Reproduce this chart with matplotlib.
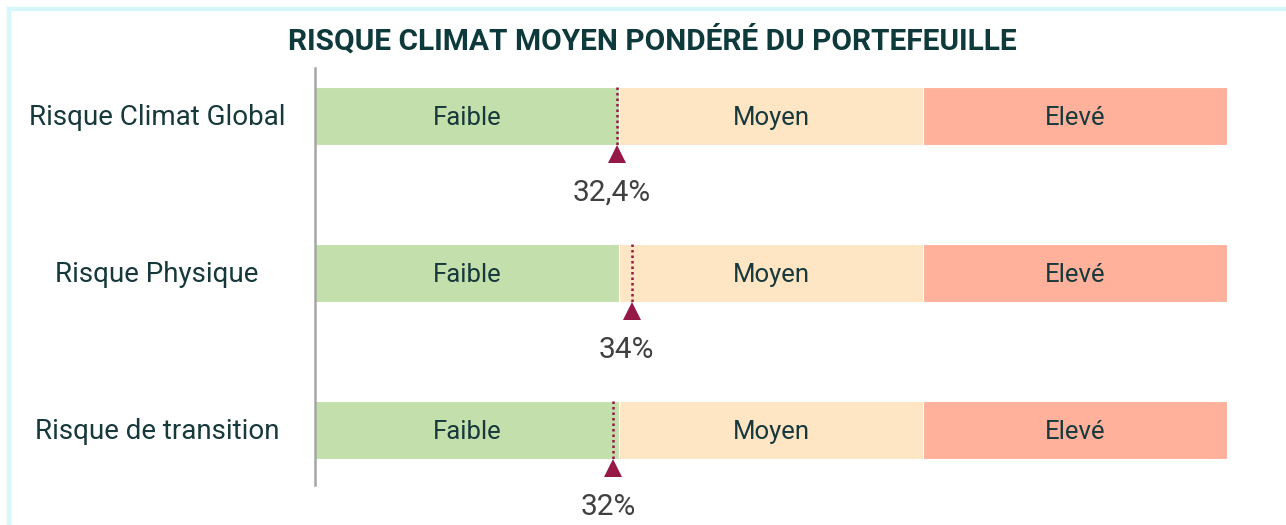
import matplotlib.pyplot as plt
from matplotlib.lines import Line2D

# data
categories = ["Risque Climat Global", "Risque Physique", "Risque de transition"]
zones = ["Faible", "Moyen", "Elevé"]
zone_widths = [32.6, 32.6, 32.6]
zone_colors = ["#c3dfac", "#fee5c4", "#ffb19b"]
scores = [32.4, 34.0, 32.0]
score_labels = ["32,4%", "34%", "32%"]

text_col = "#17393b"
mark_col = "#951846"

plt.rcParams['font.family'] = ['Roboto', 'DejaVu Sans']

fig = plt.figure(figsize=(12.86, 5.25), dpi=100)
W, H = 1286, 525

# light frame, only top and left edges are visible
frame = "#d7f8fa"
fig.add_artist(Line2D([9 / W, 1], [1 - 9 / H, 1 - 9 / H], color=frame, linewidth=3.2))
fig.add_artist(Line2D([9 / W, 9 / W], [0, 1 - 9 / H], color=frame, linewidth=3.2))

ax = fig.add_axes([315 / W, 1 - 485 / H, (1227 - 315) / W, (485 - 68) / H])
ax.set_xlim(0, sum(zone_widths))
ax.set_ylim(2.35, -0.306)

bar_h = 0.37
for i, cat in enumerate(categories):
    left = 0
    for z, w, c in zip(zones, zone_widths, zone_colors):
        ax.barh(i, w, left=left, height=bar_h, color=c, edgecolor="white", linewidth=0.8)
        ax.text(left + w / 2, i + 0.01, z, ha="center", va="center", fontsize=18.5,
                color=text_col)
        left += w

    # score marker
    s = scores[i]
    ax.plot([s, s], [i - bar_h / 2, i + bar_h / 2], color=mark_col, linestyle=(0, (1, 1.2)),
            linewidth=1.8)
    ax.plot(s, i + bar_h / 2 + 0.055, marker="^", markersize=13, color=mark_col,
            clip_on=False, markeredgewidth=0)
    ax.text(s - 0.6, i + 0.49, score_labels[i], ha="center", va="center",
            fontsize=21.5, color="#404040", clip_on=False)

    # category label, centred in the left margin
    ax.text(-158 / 9.33, i + 0.01, cat, ha="center", va="center", fontsize=20,
            color=text_col, clip_on=False)

ax.set_yticks([])
ax.set_xticks([])
for side in ["top", "right", "bottom"]:
    ax.spines[side].set_visible(False)
ax.spines["left"].set_color("#a6a6a6")
ax.spines["left"].set_linewidth(1.8)

fig.text(652 / W, 1 - 40 / H, "RISQUE CLIMAT MOYEN PONDÉRÉ DU PORTEFEUILLE", ha="center",
         va="center", fontsize=21.5, fontweight="bold", color="#0f3a3c")

fig.savefig("out.png", dpi=100)
